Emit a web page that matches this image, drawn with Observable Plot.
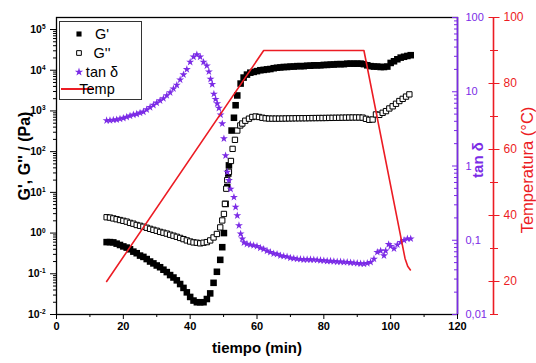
<!DOCTYPE html>
<html><head><meta charset="utf-8">
<script src="https://cdn.jsdelivr.net/npm/d3@7"></script>
<script src="https://cdn.jsdelivr.net/npm/@observablehq/plot@0.6"></script>
<style>body{margin:0;background:#fff;} #chart{width:536px;height:363px;}</style>
</head><body><div id="chart"></div>
<script>
// ---- data (time in min, value) ----
const gPrimeData = [
  [15,0.60],[16,0.60],[17,0.59],[18,0.55],[19,0.51],[20,0.47],[21,0.44],[22,0.40],[23,0.35],[24,0.32],
  [25,0.28],[26,0.26],[27,0.23],[28,0.20],[29,0.18],[30,0.16],[31,0.145],[32,0.126],[33,0.11],[34,0.093],
  [35,0.081],[36,0.069],[37,0.056],[38,0.045],[39,0.035],[40,0.027],[41,0.022],[42,0.020],[43,0.020],[44,0.020],
  [45,0.024],[46,0.033],[47,0.060],[48,0.112],[49,0.22],[49.6,0.45],[50.1,1.0],[50.6,5.2],[51.1,13.5],[51.4,29],
  [51.6,46],[52.4,330],[53.1,680],[53.6,1380],[54.1,2400],[55.1,4700],[56,6600],[57,7800],[58,8700],[59,9100],
  [60,9500],[61,10000],[62,10200],[63,10500],[64,10700],[65,11200],[66,11500],[67,11700],[68,12000],[69,12000],
  [70,12300],[71,12300],[72,12600],[73,12600],[74,12600],[75,12900],[76,12900],[77,13200],[78,13200],[79,13200],
  [80,13500],[81,13500],[82,13800],[83,13800],[84,14100],[85,14100],[86,14100],[87,14500],[88,14500],[89,14500],
  [90,14500],[91,14500],[92,14100],[93,13200],[94,12600],[95,12300],[96,12300],[97,12000],[98,12000],[99,12300],
  [100,15100],[101,16600],[102,18600],[103,20400],[104,21400],[105,22400],[106,23400]
];
const gDoublePrimeData = [
  [15,2.45],[16,2.40],[17,2.29],[18,2.19],[19,2.09],[20,2.00],[21,1.91],[22,1.78],[23,1.70],[24,1.58],
  [25,1.51],[26,1.43],[27,1.35],[28,1.27],[29,1.20],[30,1.14],[31,1.07],[32,1.02],[33,0.97],[34,0.91],
  [35,0.86],[36,0.81],[37,0.76],[38,0.71],[39,0.66],[40,0.62],[41,0.59],[42,0.58],[43,0.56],[44,0.58],
  [45,0.60],[46,0.66],[47,0.78],[48,0.95],[49,1.38],[49.6,2.04],[50.1,2.95],[50.4,5.2],[50.8,12.3],[51.1,20],
  [51.6,32],[52.2,59],[52.7,117],[53.4,195],[54.1,330],[55,440],[55.6,490],[56.5,575],[57.6,645],[58.6,710],
  [59.6,730],[60.6,710],[61.6,680],[62.6,660],[63.6,650],[64.6,648],[65.6,648],[66.6,648],[67.6,650],[68.6,653],
  [69.6,655],[70.6,657],[71.6,660],[72.6,660],[73.6,662],[74.6,662],[75.6,665],[76.6,667],[77.6,668],[78.6,670],
  [79.6,670],[80.6,672],[81.6,675],[82.6,676],[83.6,678],[84.6,680],[85.6,683],[86.6,685],[87.6,688],[88.6,690],
  [89.6,690],[90.6,690],[91.6,685],[92.6,640],[93.6,605],[94.6,615],[95.6,820],[96.6,800],[97.6,900],[98.6,990],
  [99.6,1150],[100.6,1300],[101.6,1500],[102.6,1750],[103.6,1980],[104.6,2250],[105.6,2550]
];
const tanDeltaData = [
  [15,4.10],[16,4.12],[17,4.17],[18,4.22],[19,4.32],[20,4.42],[21,4.57],[22,4.73],[23,4.90],[24,5.01],
  [25,5.19],[26,5.37],[27,5.75],[28,6.17],[29,6.61],[30,7.08],[31,7.59],[32,8.13],[33,8.91],[34,9.77],
  [35,11.0],[36,12.3],[37,14.5],[38,17.0],[39,20.0],[40,25.1],[41,29.5],[42,31.6],[43,29.5],[44,25.1],
  [45,22.4],[45.6,18.6],[46.1,14.8],[46.6,12.6],[47.1,9.33],[47.6,7.94],[48.1,6.92],[48.6,6.03],[49.1,4.90],[49.6,3.72],
  [50.1,2.34],[50.6,1.38],[51.1,0.83],[51.6,0.64],[52.1,0.49],[53.1,0.38],[53.6,0.28],[54.1,0.215],[54.6,0.158],[55.1,0.122],
  [55.6,0.105],[56.1,0.093],[57,0.089],[58,0.087],[59,0.085],[60,0.083],[61,0.079],[62,0.076],[63,0.072],[64,0.069],
  [65,0.066],[66,0.065],[67,0.062],[68,0.061],[69,0.060],[70,0.058],[71,0.057],[72,0.056],[73,0.0556],[74,0.055],
  [75,0.055],[76,0.055],[77,0.0546],[78,0.0543],[79,0.0537],[80,0.0531],[81,0.0525],[82,0.0525],[83,0.0519],[84,0.0513],
  [85,0.0513],[86,0.0507],[87,0.0506],[88,0.050],[89,0.0495],[90,0.049],[91,0.0484],[92,0.0482],[93,0.049],[94,0.0506],
  [95,0.056],[96,0.069],[97,0.072],[98,0.062],[98.5,0.072],[99.4,0.088],[100,0.083],[101,0.077],[102,0.087],[103,0.094],
  [104,0.100],[105,0.105],[106,0.105]
];
const temperatureData = [[15,20],[62,90],[92,90],[104.3,27],[105.1,24.6],[105.9,23.5]];

const xDomain = [0, 120];
const xLabelTicks = [0, 20, 40, 60, 80, 100, 120];
const xMinorTicks = [10, 30, 50, 70, 90, 110];
const gExponents = [-2, -1, 0, 1, 2, 3, 4, 5];
const tanTickValues = [0.01, 0.1, 1, 10, 100];
const tanTickLabels = ["0,01", "0,1", "1", "10", "100"];
const tempLabelTicks = [20, 40, 60, 80, 100];
const tempMinorTicks = [10, 30, 50, 70, 90];
const legendLabels = ["G'", "G''", "tan \u03b4", "Temp"];

// ---- scale geometry (three y axes sharing one log scale) ----
const LG_MIN = -2, LG_MAX = 5.295;         // left axis: 10^-2 .. top of frame
const TAN_MIN = -2, TAN_MAX = 2;           // right axis: 0.01 .. 100
const T_MIN = 10, T_MAX = 100;             // temperature axis
const tanToG = v => 10 ** (LG_MIN + (Math.log10(v) - TAN_MIN) / (TAN_MAX - TAN_MIN) * (LG_MAX - LG_MIN));
const tempToG = T => 10 ** (LG_MIN + (T - T_MIN) / (T_MAX - T_MIN) * (LG_MAX - LG_MIN));

const purple = "#7b2be6", red = "#ec1c24";
const font = "'Liberation Sans', Arial, sans-serif";

const pts = a => a.map(([t, v]) => ({t, v}));
const gMajor = gExponents.map(e => 10 ** e);
const gMinor = gExponents.slice(0, -1).flatMap(e => [2,3,4,5,6,7,8,9].map(m => m * 10 ** e));
const tanMinor = [-2,-1,0,1].flatMap(e => [2,3,4,5,6,7,8,9].map(m => tanToG(m * 10 ** e)));
const tanMajorG = tanTickValues.map(tanToG);
const noText = () => "";

const W = 536, H = 363, mL = 56, mR = 79, mT = 17, mB = 49;
const frameW = W - mL - mR;

const plot = Plot.plot({
  width: W, height: H, marginLeft: mL, marginRight: mR, marginTop: mT, marginBottom: mB,
  style: {fontFamily: font, background: "white", color: "black", overflow: "visible"},
  x: {domain: xDomain},
  y: {type: "log", domain: [10 ** LG_MIN, 10 ** LG_MAX]},
  marks: [
    Plot.dot(pts(gPrimeData), {x: "t", y: "v", symbol: "square", r: 3.7, fill: "black"}),
    Plot.dot(pts(gDoublePrimeData), {x: "t", y: "v", symbol: "square", r: 3.0, fill: "white", stroke: "black", strokeWidth: 1}),
    Plot.dot(pts(tanDeltaData), {x: "t", y: d => tanToG(d.v), symbol: "star", r: 2.5, fill: purple}),
    Plot.line(pts(temperatureData), {x: "t", y: d => tempToG(d.v), stroke: red, strokeWidth: 1.6}),
    Plot.frame({stroke: "black", strokeWidth: 1.3}),
    Plot.ruleX([xDomain[1]], {stroke: purple, strokeWidth: 1.6}),
    Plot.ruleX([xDomain[1]], {stroke: red, strokeWidth: 1.6, dx: 36}),
    // x axis
    Plot.axisX(xMinorTicks, {tickSize: 3, tickFormat: noText, label: null}),
    Plot.axisX(xLabelTicks, {tickSize: 5, tickPadding: 3, fontSize: 11, fontWeight: "bold", label: null}),
    // left axis
    Plot.axisY(gMinor, {anchor: "left", tickSize: 3, tickFormat: noText, label: null}),
    Plot.axisY(gMajor, {anchor: "left", tickSize: 6, tickPadding: 5, fontSize: 10.5, fontWeight: "bold",
      tickFormat: d => "10^" + Math.round(Math.log10(d)), label: null}),
    // tan delta axis (ticks point inward)
    Plot.axisY(tanMinor, {anchor: "left", dx: frameW, tickSize: 3, tickFormat: noText, color: purple, label: null}),
    Plot.axisY(tanMajorG, {anchor: "left", dx: frameW, tickSize: 5, tickFormat: noText, color: purple, label: null}),
    Plot.text(tanTickValues, {y: tanToG, frameAnchor: "right", dx: 8, textAnchor: "start",
      text: (d, i) => tanTickLabels[i], fill: purple, fontSize: 11}),
    // temperature axis (ticks cross the axis line)
    Plot.axisY(tempMinorTicks.map(tempToG), {anchor: "right", dx: 32, tickSize: 8, tickFormat: noText, color: red, label: null}),
    Plot.axisY(tempLabelTicks.map(tempToG), {anchor: "right", dx: 30.5, tickSize: 11, tickFormat: noText, color: red, label: null}),
    Plot.text(tempLabelTicks, {y: tempToG, frameAnchor: "right", dx: 46, textAnchor: "start",
      text: d => String(d), fill: red, fontSize: 12}),
    // axis titles
    Plot.text(["G', G'' / (Pa)"], {frameAnchor: "left", textAnchor: "middle", rotate: -90, dx: -32, dy: -10, fontSize: 16, fontWeight: "bold"}),
    Plot.text(["tiempo (min)"], {frameAnchor: "bottom", textAnchor: "middle", dy: 38, fontSize: 15, fontWeight: "bold"}),
    Plot.text(["tan \u03b4"], {frameAnchor: "right", textAnchor: "middle", rotate: -90, dx: 21, dy: -6, fontSize: 15, fontWeight: "bold", fill: purple}),
    Plot.text(["Temperatura (\u00b0C)"], {frameAnchor: "right", textAnchor: "middle", rotate: -90, dx: 70, dy: 4, fontSize: 16.5, fill: red})
  ]
});

// superscript exponents on the left axis
d3.select(plot).selectAll("text").each(function() {
  const m = /^10\^(-?\d+)$/.exec(this.textContent);
  if (m) {
    const el = d3.select(this);
    el.text("10");
    el.append("tspan").attr("dy", "-0.6em").attr("font-size", "0.62em").text(m[1]);
  }
});

// legend box inside the plot
const svg = d3.select(plot);
const lg = svg.append("g").attr("font-family", font).attr("font-size", 14.5);
lg.append("rect").attr("x", 59.5).attr("y", 21.5).attr("width", 82).attr("height", 78)
  .attr("fill", "white").attr("stroke", "#333").attr("stroke-width", 1);
const rowsY = [34, 53, 72, 89];
lg.append("path").attr("transform", `translate(79,${rowsY[0]})`).attr("d", d3.symbol(d3.symbolSquare, 26)()).attr("fill", "black");
lg.append("path").attr("transform", `translate(79,${rowsY[1]})`).attr("d", d3.symbol(d3.symbolSquare, 22)()).attr("fill", "white").attr("stroke", "black");
lg.append("path").attr("transform", `translate(79,${rowsY[2]})`).attr("d", d3.symbol(d3.symbolStar, 22)()).attr("fill", purple);
lg.append("line").attr("x1", 61).attr("x2", 94).attr("y1", rowsY[3]).attr("y2", rowsY[3]).attr("stroke", red).attr("stroke-width", 1.8);
legendLabels.forEach((s, i) => {
  lg.append("text").attr("x", i < 3 ? 102 : 97).attr("y", rowsY[i]).attr("dy", "0.35em").text(s);
});

document.getElementById("chart").appendChild(plot);
</script>
</body></html>
